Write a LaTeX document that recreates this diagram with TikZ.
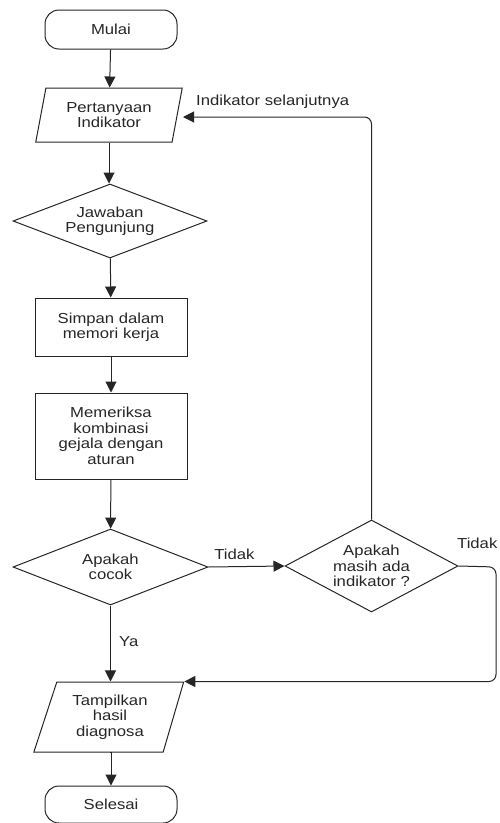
\documentclass[tikz,border=0pt]{standalone}
\usepackage{fontspec}
\setmainfont{Liberation Sans}[FakeStretch=1.15]
\usetikzlibrary{shapes.geometric,arrows.meta}
\definecolor{ink}{HTML}{262626}
\begin{document}
\begin{tikzpicture}[x=1pt,y=-1pt,
  font=\fontsize{14.5}{15.5}\selectfont,
  every node/.append style={text=ink, align=center},
  base/.style={draw=ink, line width=1pt, inner sep=0pt},
  terminal/.style={base, rectangle, rounded corners=14pt, minimum width=132pt, minimum height=39pt},
  process/.style={base, rectangle, minimum width=152pt},
  decision/.style={base, diamond},
  io/.style={base, trapezium, trapezium stretches=true},
  flow/.style={draw=ink, line width=1pt, -{Triangle[length=11pt,width=11pt]}},
  lbl/.style={inner sep=0pt}]
\useasboundingbox (0,0) rectangle (499,823);

% main column
\node[terminal] (mulai) at (111,29.5) {Mulai};
\node[io, trapezium left angle=75, trapezium right angle=105,
      minimum width=148pt, minimum height=54pt] (pert) at (109,115) {Pertanyaan\\Indikator};
\node[decision, minimum width=194pt, minimum height=74pt, aspect=2.6] (jaw) at (110,221) {Jawaban\\Pengunjung};
\node[process, minimum height=58pt] (simpan) at (111,327) {Simpan dalam\\memori kerja};
\node[process, minimum height=86pt] (periksa) at (111,436) {Memeriksa\\kombinasi\\gejala dengan\\aturan};
\node[decision, minimum width=195pt, minimum height=76pt, aspect=2.6] (cocok) at (110.5,567) {Apakah\\cocok};
\node[decision, minimum width=173pt, minimum height=92pt, aspect=1.9] (masih) at (371.5,566) {Apakah\\masih ada\\indikator ?};
\node[io, trapezium left angle=70, trapezium right angle=108,
      minimum width=150pt, minimum height=70pt] (tampil) at (110,717) {Tampilkan\\hasil\\diagnosa};
\node[terminal, minimum height=37pt] (selesai) at (111,804.5) {Selesai};

% loop end points
\coordinate (kembali) at (183,117);
\coordinate (kanan) at (496,567);

% connectors
\draw[flow] (mulai) -- (pert);
\draw[flow] (pert.south) -- (pert.south |- jaw.north);
\draw[flow] (jaw) -- (simpan);
\draw[flow] (simpan) -- (periksa);
\draw[flow] (periksa) -- (cocok);
\draw[flow] (cocok.east) -- node[lbl, pos=0.34, above=7pt] {Tidak} (masih.west);
\draw[flow, rounded corners=7pt] (masih.north) |- (kembali);
\draw[flow, rounded corners=7pt] (masih.east) -- (kanan) |- (tampil.top right corner);
\draw[flow] (cocok.south) -- (cocok.south |- tampil.north);
\draw[flow] (tampil.south) -- (tampil.south -| selesai.north) -- (selesai.north);

% branch labels
\node[lbl, anchor=west] (lblnext) at (196,102) {Indikator selanjutnya};
\node[lbl, anchor=west] (lbltidak) at (457,543) {Tidak};
\node[lbl, anchor=west] (lblya) at (119,642) {Ya};
\end{tikzpicture}
\end{document}
